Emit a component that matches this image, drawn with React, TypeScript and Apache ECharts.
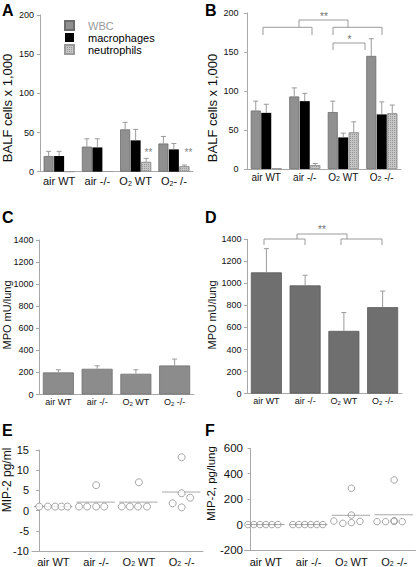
import React, { useEffect, useRef } from 'react';
import * as echarts from 'echarts';

const FONT = '"Liberation Sans", Arial, Helvetica, sans-serif';
const AX = '#a8a8a8';
const TXT = '#111';

// categories
const groups = ['air WT', 'air -/-', 'O2 WT', 'O2 -/-'];
const groupsA = ['air WT', 'air -/-', 'O2 WT', 'O2- /-'];
const cellTypes = ['WBC', 'macrophages', 'neutrophils'];

// Panel A: BALF cells x 1,000 (mean and top of error bar)
const aWBC = [20, 32, 54, 36];
const aWBCTop = [26, 42, 63, 45];
const aMac = [20, 31, 40, 28.5];
const aMacTop = [26, 42, 54, 36];
const aNeu = [0.3, 0.5, 12.5, 7];
const aNeuTop = [0.3, 0.5, 17, 8.5];

// Panel B
const bWBC = [75, 93, 73, 145];
const bWBCTop = [87, 104, 87, 167];
const bMac = [72, 87, 40.5, 70];
const bMacTop = [83, 97, 46, 86];
const bNeu = [1, 5, 47, 71.5];
const bNeuTop = [1, 7, 60.5, 82];

// Panel C / D: MPO mU/lung
const cMPO = [200, 233, 188, 263];
const cMPOTop = [224, 260, 224, 321];
const dMPO = [1100, 982, 569, 784];
const dMPOTop = [1315, 1074, 735, 930];

// Panel E: MIP-2 pg/ml, individual animals (value, horizontal jitter within group)
const eValues = [[1, 1, 1, 1, 1], [1, 1, 1, 1, 6.3], [1, 1, 1, 1, 7], [13.2, 4.3, 3.2, 1.8, 0.8]];
const eJitter = [[-0.33, -0.13, 0.04, 0.19, 0.33], [-0.4, -0.21, 0, 0.19, 0], [-0.4, -0.21, -0.02, 0.19, 0], [0, 0, 0.2, -0.21, 0]];
const eMeans = [1, 2.1, 2.1, 4.6];

// Panel F: MIP-2 pg/lung
const fValues = [[0, 0, 0, 0, 0, 0], [0, 0, 0, 0, 0, 0], [286, 75, 28, 10, 15, 25], [351, 23, 23, 25, 30, 23]];
const fJitter = [[-0.42, -0.28, -0.14, 0, 0.14, 0.28], [-0.37, -0.23, -0.09, 0.05, 0.19, 0.33], [0, 0, -0.41, -0.2, 0, 0.2], [0, -0.4, -0.2, 0, 0, 0.19]];
const fMeans = [0, 0, 73, 77];

const subLabel = (v: string) => v.replace('O2', 'O{s|2}');

const catAxis = (gridIndex: number, data: string[], fontSize: number, margin: number) => ({
  type: 'category',
  gridIndex,
  data,
  boundaryGap: true,
  axisLine: { onZero: false, lineStyle: { color: AX, width: 1 } },
  axisTick: { inside: true, length: 4, lineStyle: { color: AX } },
  axisLabel: {
    fontSize,
    color: TXT,
    margin,
    fontFamily: FONT,
    interval: 0,
    formatter: subLabel,
    rich: { s: { fontSize: Math.round(fontSize * 0.68), color: TXT, fontFamily: FONT, verticalAlign: 'bottom' } },
  },
  splitLine: { show: false },
});

const valAxis = (gridIndex: number, min: number, max: number, interval: number, fontSize: number, margin: number, offset = 0) => ({
  type: 'value',
  gridIndex,
  min,
  max,
  interval,
  offset,
  axisLine: { show: true, onZero: false, lineStyle: { color: AX, width: 1 } },
  axisTick: { show: true, length: 3, lineStyle: { color: AX } },
  axisLabel: { fontSize, color: TXT, margin, fontFamily: FONT, formatter: (v: number) => String(v) },
  splitLine: { show: false },
});

const hiddenX = (gridIndex: number) => ({ type: 'value', gridIndex, min: -0.5, max: 3.5, show: false, axisLine: { onZero: false } });

const errData = (vals: number[], tops: number[], k: number) => vals.map((v, i) => [i, v, tops[i], k]);

const errSeries = (xi: number, yi: number, data: number[][], step: number) => ({
  type: 'custom',
  xAxisIndex: xi,
  yAxisIndex: yi,
  z: 5,
  silent: true,
  data,
  renderItem: (params: any, api: any) => {
    const c = api.value(0);
    const base = api.coord([c, api.value(1)]);
    const top = api.coord([c, api.value(2)]);
    const x = base[0] + api.value(3) * step;
    if (Math.abs(base[1] - top[1]) < 0.5) return null;
    const st = { stroke: '#9a9a9a', lineWidth: 1 };
    return {
      type: 'group',
      children: [
        { type: 'line', shape: { x1: x, y1: base[1], x2: x, y2: top[1] }, style: st },
        { type: 'line', shape: { x1: x - 2.5, y1: top[1], x2: x + 2.5, y2: top[1] }, style: st },
      ],
    };
  },
});

const meanSeries = (xi: number, yi: number, means: number[]) => ({
  type: 'custom',
  xAxisIndex: xi,
  yAxisIndex: yi,
  silent: true,
  z: 1,
  data: means.map((m, i) => [i, m]),
  renderItem: (params: any, api: any) => {
    const i = api.value(0);
    const m = api.value(1);
    const p1 = api.coord([i - 0.46, m]);
    const p2 = api.coord([i + 0.44, m]);
    return { type: 'line', shape: { x1: p1[0], y1: p1[1], x2: p2[0], y2: p2[1] }, style: { stroke: '#a8a8a8', lineWidth: 1 } };
  },
});

const pointData = (vals: number[][], jit: number[][]) => {
  const out: number[][] = [];
  vals.forEach((g, i) => g.forEach((v, j) => out.push([i + jit[i][j], v])));
  return out;
};

const barColors = {
  WBC: { color: '#909090', borderColor: '#6c6c6c', borderWidth: 0.8 },
  macrophages: { color: '#000000' },
  neutrophils: {
    color: '#c6c6c6',
    borderColor: '#9a9a9a',
    borderWidth: 0.8,
    decal: { symbol: 'rect', symbolSize: 1, dashArrayX: [1, 1], dashArrayY: [1, 1], color: 'rgba(90,90,90,0.45)' },
  },
};

const groupedBars = (xi: number, yi: number, sets: number[][]) =>
  cellTypes.map((name, k) => ({
    type: 'bar',
    name,
    xAxisIndex: xi,
    yAxisIndex: yi,
    barWidth: 10,
    barGap: '5%',
    data: sets[k],
    itemStyle: (barColors as any)[name],
  }));

const bracket = (pts: number[][]) => ({
  type: 'polyline',
  shape: { points: pts },
  style: { stroke: '#9a9a9a', lineWidth: 1, fill: 'none' },
  silent: true,
});

const txt = (text: string, x: number, y: number, fontSize: number, fill = TXT) => ({
  type: 'text',
  x,
  y,
  silent: true,
  style: { text, fontSize, fontFamily: FONT, fill, align: 'center', verticalAlign: 'middle' },
});

const vTitle = (text: string, x: number, y: number, fontSize: number) => ({
  ...txt(text, x, y, fontSize),
  rotation: Math.PI / 2,
});

const letter = (text: string, x: number, y: number) => ({
  type: 'text',
  x,
  y,
  silent: true,
  style: { text, fontSize: 16, fontWeight: 'bold', fontFamily: FONT, fill: '#000', align: 'left', verticalAlign: 'top' },
});

export default function App() {
  const ref = useRef<HTMLDivElement>(null);

  useEffect(() => {
    if (!ref.current) return;
    const chart = echarts.init(ref.current, null, { renderer: 'svg' });
    const option: any = {
      animation: false,
      backgroundColor: '#fff',
      textStyle: { fontFamily: FONT },
      legend: {
        orient: 'vertical',
        left: 59,
        top: 15,
        itemWidth: 9,
        itemHeight: 9,
        itemGap: 1,
        icon: 'rect',
        selectedMode: false,
        textStyle: { fontSize: 11, color: '#000', fontFamily: FONT, padding: [0, 0, 0, 9] },
        data: [{ name: 'WBC', textStyle: { color: '#9a9a9a' } }, 'macrophages', 'neutrophils'],
      },
      grid: [
        { left: 40, top: 15, width: 153, height: 156.7 },
        { left: 247, top: 13, width: 154, height: 156 },
        { left: 39, top: 240, width: 155, height: 154.5 },
        { left: 247, top: 239.3, width: 155, height: 154.3 },
        { left: 32, top: 450, width: 171, height: 102.7 },
        { left: 244.5, top: 448.3, width: 171, height: 101.7 },
      ],
      xAxis: [
        catAxis(0, groupsA, 11, 4),
        catAxis(1, groups, 10, 3),
        catAxis(2, groups, 9, 3),
        catAxis(3, groups, 9, 3),
        catAxis(4, groups, 11, 5),
        hiddenX(4),
        catAxis(5, groups, 11, 6),
        hiddenX(5),
      ],
      yAxis: [
        valAxis(0, 0, 200, 50, 9, 6),
        valAxis(1, 0, 200, 50, 9, 8.5),
        valAxis(2, 0, 1400, 200, 9, 5.5),
        valAxis(3, 0, 1400, 200, 9, 5.5),
        valAxis(4, -10, 15, 5, 11, 10, -7),
        valAxis(5, -200, 600, 200, 11.5, 7.5, -6),
      ],
      series: [
        ...groupedBars(0, 0, [aWBC, aMac, aNeu]),
        errSeries(0, 0, [...errData(aWBC, aWBCTop, -1), ...errData(aMac, aMacTop, 0), ...errData(aNeu, aNeuTop, 1)], 10.5),
        ...groupedBars(1, 1, [bWBC, bMac, bNeu]),
        errSeries(1, 1, [...errData(bWBC, bWBCTop, -1), ...errData(bMac, bMacTop, 0), ...errData(bNeu, bNeuTop, 1)], 10.5),
        {
          type: 'bar',
          name: 'MPO C',
          xAxisIndex: 2,
          yAxisIndex: 2,
          barCategoryGap: '20%',
          data: cMPO,
          itemStyle: { color: '#8c8c8c', borderColor: '#707070', borderWidth: 0.8 },
        },
        errSeries(2, 2, errData(cMPO, cMPOTop, 0), 0),
        {
          type: 'bar',
          name: 'MPO D',
          xAxisIndex: 3,
          yAxisIndex: 3,
          barCategoryGap: '20%',
          data: dMPO,
          itemStyle: { color: '#6f6f6f', borderColor: '#5c5c5c', borderWidth: 0.8 },
        },
        errSeries(3, 3, errData(dMPO, dMPOTop, 0), 0),
        meanSeries(5, 4, eMeans),
        {
          type: 'scatter',
          name: 'MIP-2 pg/ml',
          xAxisIndex: 5,
          yAxisIndex: 4,
          symbol: 'circle',
          symbolSize: 7,
          z: 3,
          data: pointData(eValues, eJitter),
          itemStyle: { color: '#fff', borderColor: '#8f8f8f', borderWidth: 1 },
        },
        meanSeries(7, 5, fMeans),
        {
          type: 'scatter',
          name: 'MIP-2 pg/lung',
          xAxisIndex: 7,
          yAxisIndex: 5,
          symbol: 'circle',
          symbolSize: 6.5,
          z: 3,
          data: pointData(fValues, fJitter),
          itemStyle: { color: 'rgba(255,255,255,0)', borderColor: '#8f8f8f', borderWidth: 1 },
        },
      ],
      graphic: [
        letter('A', 2, 2),
        letter('B', 205, 2),
        letter('C', 2, 209),
        letter('D', 205, 209),
        letter('E', 2, 422),
        letter('F', 205, 422),
        vTitle('BALF cells x 1,000', 7, 108, 13),
        vTitle('BALF cells x 1,000', 212, 108, 13),
        vTitle('MPO mU/lung', 7, 315, 11),
        vTitle('MPO mU/lung', 212, 315, 11),
        vTitle('MIP-2 pg/ml', 7, 480, 12),
        vTitle('MIP-2, pg/lung', 211, 483.5, 11.5),
        // significance marks, panel A
        txt('**', 148.5, 152.5, 10, '#888888'),
        txt('**', 188.5, 152.5, 10, '#888888'),
        // panel B brackets
        bracket([[263, 35], [263, 27.3], [312, 27.3], [312, 35]]),
        bracket([[333, 35], [333, 27.3], [382, 27.3], [382, 35]]),
        bracket([[299, 27.3], [299, 20], [348, 20], [348, 27.3]]),
        txt('**', 324, 16, 10, '#707070'),
        bracket([[333, 50], [333, 43], [365, 43], [365, 50]]),
        txt('*', 349.5, 39.5, 10, '#707070'),
        // panel D brackets
        bracket([[264, 245], [264, 239], [305, 239], [305, 245]]),
        bracket([[341, 245], [341, 239], [382, 239], [382, 245]]),
        bracket([[297, 239], [297, 234], [347, 234], [347, 239]]),
        txt('**', 322, 229.5, 10, '#707070'),
      ],
    };
    chart.setOption(option);
    return () => chart.dispose();
  }, []);

  return <div ref={ref} style={{ position: 'fixed', left: 0, top: 0, width: 416, height: 567, background: '#fff' }} />;
}
